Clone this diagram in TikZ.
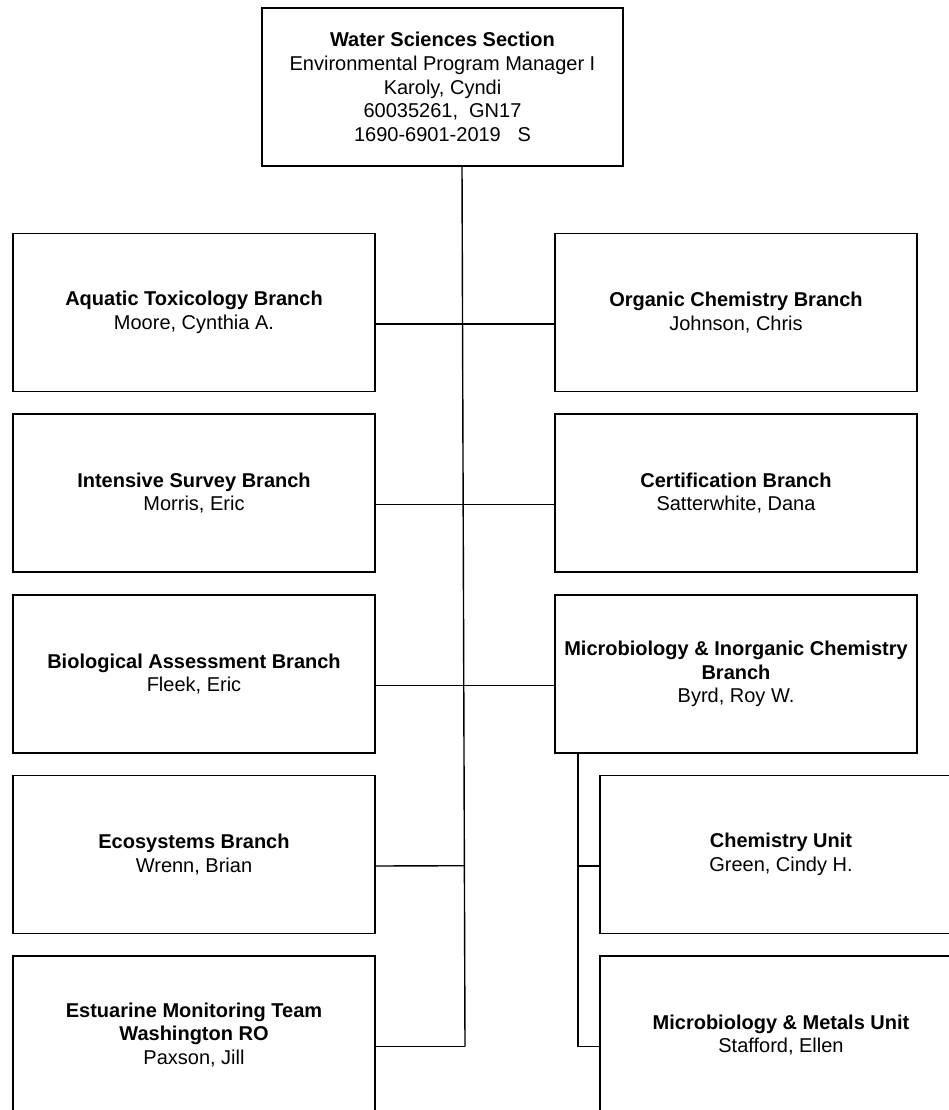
\documentclass[tikz,border=0pt]{standalone}
\usepackage{fontspec}
\setmainfont{Liberation Sans}
\usetikzlibrary{calc}

\begin{document}
\begin{tikzpicture}[x=1pt, y=-1pt]
			\tikzset{boite/.style={rectangle, draw=black, line width=1.4pt, align=center, inner sep=0pt, minimum width=362pt, minimum height=158pt, font=\fontsize{20}{23.6}\selectfont}, lien/.style={line width=1.4pt}};

			\useasboundingbox (0,0) rectangle (948,1110);

			\node[boite, minimum width=361pt] (sect) at (442.5,   87) {\textbf{Water Sciences Section}\\Environmental Program Manager I\\Karoly, Cyndi\\60035261,\ \ GN17\\1690-6901-2019\ \ \ S};

			\node[boite] (aqua)  at (  194,  312.5) {\textbf{Aquatic Toxicology Branch}\\Moore, Cynthia A.};
			\node[boite] (inten) at (  194,  493  ) {\textbf{Intensive Survey Branch}\\Morris, Eric};
			\node[boite] (bio)   at (  194,  674  ) {\textbf{Biological Assessment Branch}\\Fleek, Eric};
			\node[boite] (eco)   at (  194,  854.5) {\textbf{Ecosystems Branch}\\Wrenn, Brian};
			\node[boite] (estu)  at (  194, 1035  ) {\textbf{Estuarine Monitoring Team}\\\textbf{Washington RO}\\Paxson, Jill};

			\node[boite] (orga)  at (  736,  312.5) {\textbf{Organic Chemistry Branch}\\Johnson, Chris};
			\node[boite] (cert)  at (  736,  493  ) {\textbf{Certification Branch}\\Satterwhite, Dana};
			\node[boite] (micro) at (  736,  674  ) {\textbf{Microbiology \& Inorganic Chemistry}\\\textbf{Branch}\\Byrd, Roy W.};

			\node[boite] (chem)  at (  781,  854.5) {\textbf{Chemistry Unit}\\Green, Cindy H.};
			\node[boite] (metal) at (  781, 1035  ) {\textbf{Microbiology \& Metals Unit}\\Stafford, Ellen};

			\coordinate (haut) at (462,    0);
			\coordinate (bas)  at (465, 1046.5);
			\coordinate (ss)   at (578,    0);
			\coordinate (e4)   at ([yshift=-11.5pt]eco.east);

			\draw[lien] (sect.south -| haut) -- (bas);
			\draw[lien] ([yshift=-11.5pt]aqua.east)  -- ([yshift=-11.5pt]orga.west);
			\draw[lien] ([yshift=-11.5pt]inten.east) -- ([yshift=-11.5pt]cert.west);
			\draw[lien] ([yshift=-11.5pt]bio.east)   -- ([yshift=-11.5pt]micro.west);
			\draw[lien] (e4) -- ($(haut)!(e4)!(bas)$);
			\draw[lien] ([yshift=-11.5pt]estu.east)  -- (bas);

			\draw[lien] (micro.south -| ss) |- ([yshift=-11.5pt]metal.west);
			\draw[lien] ([yshift=-11.5pt]chem.west) -- ([yshift=-11.5pt]chem.west -| ss);

		\end{tikzpicture}
\end{document}
